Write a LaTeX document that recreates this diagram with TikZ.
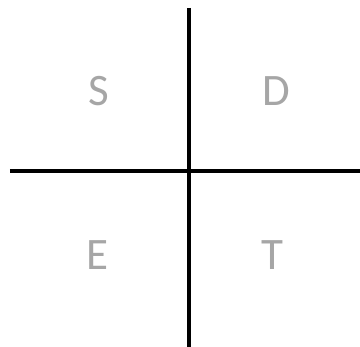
\documentclass[tikz,border=0pt]{standalone}
\usepackage{fontspec}
\setmainfont{Carlito}
\usetikzlibrary{positioning}
\definecolor{qdGray}{HTML}{A6A6A6}
\definecolor{qdAxis}{HTML}{000000}
\tikzset{
  qdaxis/.style={draw=qdAxis, line width=3.4pt},
  qdletter/.style={inner sep=0pt, text=qdGray, font=\fontsize{45}{54}\selectfont}
}

\begin{document}
\begin{tikzpicture}[x=1pt, y=-1pt]
    \useasboundingbox (0,0) rectangle (360,347);
    \coordinate (axTop) at (189,8);
    \coordinate (axBottom) at (189,347);
    \coordinate (axLeft) at (10,171);
    \coordinate (axRight) at (360,171);
    \draw[qdaxis] (axTop) -- (axBottom);
    \draw[qdaxis] (axLeft) -- (axRight);
    \foreach \x/\y/\lbl in {98.5/91.5/S, 276.5/91.5/D, 97/255.5/E, 272.5/255.5/T}{
        \node[qdletter] (q\lbl) at (\x,\y) {\lbl};
      }
  \end{tikzpicture}
\end{document}
